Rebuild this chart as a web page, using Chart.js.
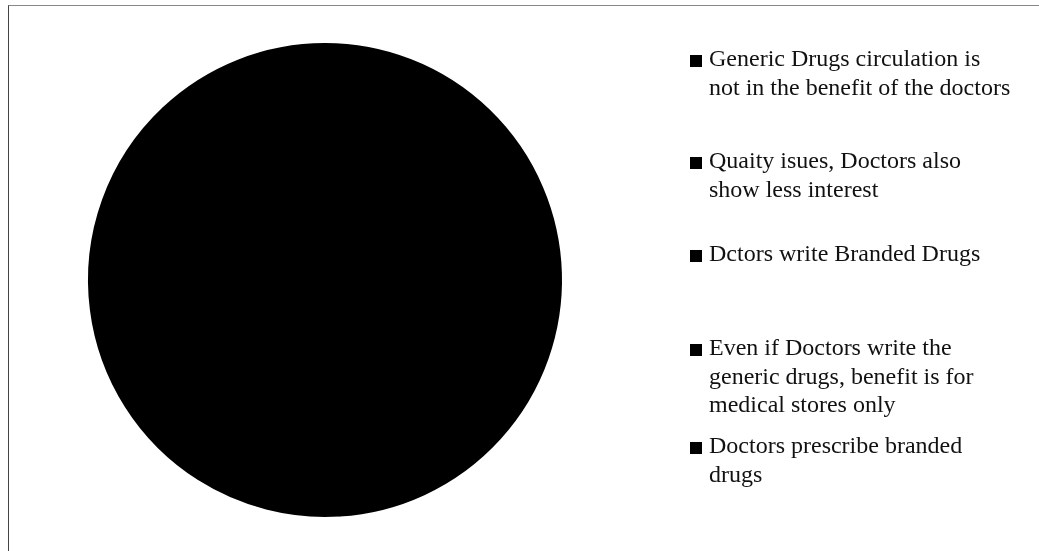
<!DOCTYPE html>
<html>
<head>
<meta charset="utf-8">
<script src="https://cdn.jsdelivr.net/npm/chart.js@4.4.1/dist/chart.umd.min.js"></script>
<style>
  html, body { margin: 0; padding: 0; background: #fff; }
  #wrap { position: relative; width: 1039px; height: 551px; }
  #frame { position: absolute; left: 8px; top: 5px; right: 0; bottom: 0;
           border-top: 1px solid #888; border-left: 1px solid #444; }
  canvas { position: absolute; left: 0; top: 0; }
</style>
</head>
<body>
<div id="wrap">
  <div id="frame"></div>
  <canvas id="c" width="1039" height="551"></canvas>
</div>
<script>
// ---- data ----
const categories = [
  "Generic Drugs circulation is not in the benefit of the doctors",
  "Quaity isues, Doctors also show less interest",
  "Dctors write Branded Drugs",
  "Even if Doctors write the generic drugs, benefit is for medical stores only",
  "Doctors prescribe branded drugs"
];
const legendLines = [
  ["Generic Drugs circulation is", "not in the benefit of the doctors"],
  ["Quaity isues, Doctors also", "show less interest"],
  ["Dctors write Branded Drugs"],
  ["Even if Doctors write the", "generic drugs, benefit is for", "medical stores only"],
  ["Doctors prescribe branded", "drugs"]
];
const shareValues = [49, 10, 14, 15, 12];
const sliceColors = ["#000000", "#000000", "#000000", "#000000", "#000000"];

// ---- layout (not data) ----
const legendLayout = { x: 690, textX: 709, box: 12, lineH: 28.5, firstY: [60, 162, 255, 349, 447] };

const customLegend = {
  id: 'customLegend',
  afterDraw(chart) {
    const ctx = chart.ctx;
    ctx.save();
    ctx.font = '24px "Liberation Serif", "Times New Roman", serif';
    ctx.textBaseline = 'middle';
    legendLines.forEach((lines, i) => {
      const y0 = legendLayout.firstY[i];
      ctx.fillStyle = sliceColors[i];
      ctx.fillRect(legendLayout.x, y0 - legendLayout.box / 2 + 1, legendLayout.box, legendLayout.box);
      ctx.fillStyle = '#111';
      lines.forEach((t, j) => {
        ctx.fillText(t, legendLayout.textX, y0 + j * legendLayout.lineH);
      });
    });
    ctx.restore();
  }
};

new Chart(document.getElementById('c'), {
  type: 'pie',
  data: {
    labels: categories,
    datasets: [{
      data: shareValues,
      backgroundColor: sliceColors,
      borderColor: sliceColors,
      borderWidth: 3
    }]
  },
  options: {
    responsive: false,
    animation: false,
    layout: { padding: { left: 88, right: 477, top: 43, bottom: 34 } },
    plugins: {
      legend: { display: false },
      tooltip: { enabled: false },
      title: { display: false }
    }
  },
  plugins: [customLegend]
});
</script>
</body>
</html>
